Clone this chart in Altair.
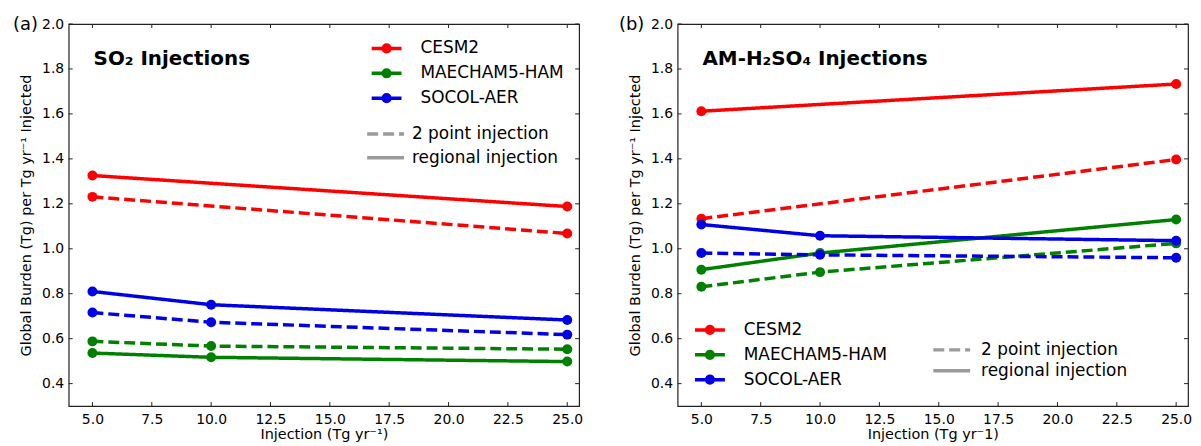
import altair as alt
import pandas as pd

# ---------------- data ----------------
x_three = [5, 10, 25]
x_two = [5, 25]
models = ["CESM2", "MAECHAM5-HAM", "SOCOL-AER"]
inj_types = ["2 point injection", "regional injection"]
model_colors = ["#ff0000", "#008000", "#0000e6"]

# (a) SO2 injections
so2_cesm2_regional = [1.326, 1.188]
so2_cesm2_2pt = [1.231, 1.068]
so2_maecham_regional = [0.536, 0.517, 0.498]
so2_maecham_2pt = [0.588, 0.567, 0.553]
so2_socol_regional = [0.810, 0.751, 0.683]
so2_socol_2pt = [0.716, 0.673, 0.618]

# (b) AM-H2SO4 injections
am_cesm2_regional = [1.612, 1.733]
am_cesm2_2pt = [1.134, 1.397]
am_maecham_regional = [0.907, 0.981, 1.130]
am_maecham_2pt = [0.831, 0.896, 1.024]
am_socol_regional = [1.108, 1.058, 1.036]
am_socol_2pt = [0.981, 0.973, 0.960]

xtick_values = [5.0, 7.5, 10.0, 12.5, 15.0, 17.5, 20.0, 22.5, 25.0]
ytick_values = [0.4, 0.6, 0.8, 1.0, 1.2, 1.4, 1.6, 1.8, 2.0]

FONT = "DejaVu Sans"
W, H = 513, 384
YTITLE = "Global Burden (Tg) per Tg yr⁻¹ Injected"


def build_df(series):
    rows = []
    for model, itype, xs, ys in series:
        for xv, yv in zip(xs, ys):
            rows.append({"model": model, "type": itype, "x": xv, "y": yv})
    return pd.DataFrame(rows)


df_so2 = build_df([
    ("CESM2", "regional injection", x_two, so2_cesm2_regional),
    ("CESM2", "2 point injection", x_two, so2_cesm2_2pt),
    ("MAECHAM5-HAM", "regional injection", x_three, so2_maecham_regional),
    ("MAECHAM5-HAM", "2 point injection", x_three, so2_maecham_2pt),
    ("SOCOL-AER", "regional injection", x_three, so2_socol_regional),
    ("SOCOL-AER", "2 point injection", x_three, so2_socol_2pt),
])
df_am = build_df([
    ("CESM2", "regional injection", x_two, am_cesm2_regional),
    ("CESM2", "2 point injection", x_two, am_cesm2_2pt),
    ("MAECHAM5-HAM", "regional injection", x_three, am_maecham_regional),
    ("MAECHAM5-HAM", "2 point injection", x_three, am_maecham_2pt),
    ("SOCOL-AER", "regional injection", x_three, am_socol_regional),
    ("SOCOL-AER", "2 point injection", x_three, am_socol_2pt),
])

xscale = alt.Scale(domain=[4, 25.5], nice=False, zero=False)
yscale = alt.Scale(domain=[0.3, 2.0], nice=False, zero=False)
cscale = alt.Scale(domain=models, range=model_colors)
dscale = alt.Scale(domain=inj_types, range=[[11, 5], [1, 0]])

COLOR_SYMBOL = ("M-2,0H2M0.45,0A0.45,0.45,0,1,1,-0.45,0"
                "A0.45,0.45,0,1,1,0.45,0Z")
DASH_SYMBOL = "M-2.5,0H2.5"


def color_legend(lx, ly, row_pad):
    return alt.Legend(
        orient="none", legendX=lx, legendY=ly, title=None, padding=0,
        symbolType=COLOR_SYMBOL, symbolSize=225, symbolStrokeWidth=3.5,
        labelFont=FONT, labelFontSize=17, labelColor="black",
        labelOffset=24.5, rowPadding=row_pad, symbolOpacity=1,
    )


def dash_legend(lx, ly, row_pad, label_offset):
    return alt.Legend(
        orient="none", legendX=lx, legendY=ly, title=None, padding=0,
        symbolType=DASH_SYMBOL, symbolSize=219, symbolStrokeWidth=3.5,
        symbolStrokeColor="#9a9a9a", symbolFillColor="transparent",
        labelFont=FONT, labelFontSize=17, labelColor="black",
        labelOffset=label_offset, rowPadding=row_pad, symbolOpacity=1,
    )


def panel(df, title_text, tag, tag_dx, xtitle, cleg, dleg):
    xaxis = alt.Axis(values=xtick_values, format=".1f", title=xtitle,
                     titlePadding=1, labelPadding=7, titleFontSize=14.5,
                     titleFontWeight="normal")
    yaxis = alt.Axis(values=ytick_values, format=".1f", title=YTITLE,
                     titlePadding=8.5, labelPadding=5, titleFontSize=14.5,
                     titleFontWeight="normal")
    X = alt.X("x:Q", scale=xscale, axis=xaxis)
    Y = alt.Y("y:Q", scale=yscale, axis=yaxis)
    base = alt.Chart(df)
    lines = base.mark_line(strokeWidth=3.5).encode(
        x=X, y=Y,
        color=alt.Color("model:N", scale=cscale, legend=cleg),
        strokeDash=alt.StrokeDash("type:N", scale=dscale, legend=dleg),
        detail="type:N",
    )
    points = base.mark_point(filled=True, size=100, opacity=1).encode(
        x=X, y=Y,
        color=alt.Color("model:N", scale=cscale, legend=cleg),
    )
    xt = pd.DataFrame({"x": xtick_values})
    yt = pd.DataFrame({"y": ytick_values})
    tick_style = dict(color="#222222", strokeWidth=1)
    xb = alt.Chart(xt).mark_rule(**tick_style).encode(
        x=X, y=alt.value(H), y2=alt.value(H - 4))
    xtop = alt.Chart(xt).mark_rule(**tick_style).encode(
        x=X, y=alt.value(0), y2=alt.value(4))
    yl = alt.Chart(yt).mark_rule(**tick_style).encode(
        y=Y, x=alt.value(0), x2=alt.value(4))
    yr = alt.Chart(yt).mark_rule(**tick_style).encode(
        y=Y, x=alt.value(W - 4), x2=alt.value(W))
    title = alt.Chart(pd.DataFrame({"t": [title_text]})).mark_text(
        font=FONT, fontSize=20, fontWeight="bold", align="left",
        baseline="middle", color="black").encode(
        text="t:N", x=alt.value(25), y=alt.value(35))
    tag_mark = alt.Chart(pd.DataFrame({"t": [tag]})).mark_text(
        font=FONT, fontSize=18, align="left", baseline="middle",
        color="black").encode(
        text="t:N", x=alt.value(tag_dx), y=alt.value(1))
    return alt.layer(lines, points, xb, xtop, yl, yr, title, tag_mark).properties(
        width=W, height=H)


left = panel(df_so2, "SO₂ Injections", "(a)", -56, "Injection (Tg yr⁻¹)",
             color_legend(310, 15, 4), dash_legend(309, 101, 6, 17))
right = panel(df_am, "AM-H₂SO₄ Injections", "(b)", -59, "Injection (Tg yr⁻1)",
              color_legend(23, 298, 4), dash_legend(266, 318, 3, 20))

chart = alt.hconcat(left, right, spacing=34).resolve_legend(
    color="independent", strokeDash="independent"
).properties(
    padding={"left": 4, "top": 6, "right": 0, "bottom": 0}
).configure_view(
    stroke="#222222", strokeWidth=1.2
).configure_axis(
    labelFont=FONT, labelFontSize=14, labelColor="black",
    titleFont=FONT, titleFontSize=14.5, titleFontWeight="normal",
    titleColor="black", ticks=False, domain=False, grid=False,
)

chart.save("out.html", embed_options={"renderer": "svg", "actions": False})
